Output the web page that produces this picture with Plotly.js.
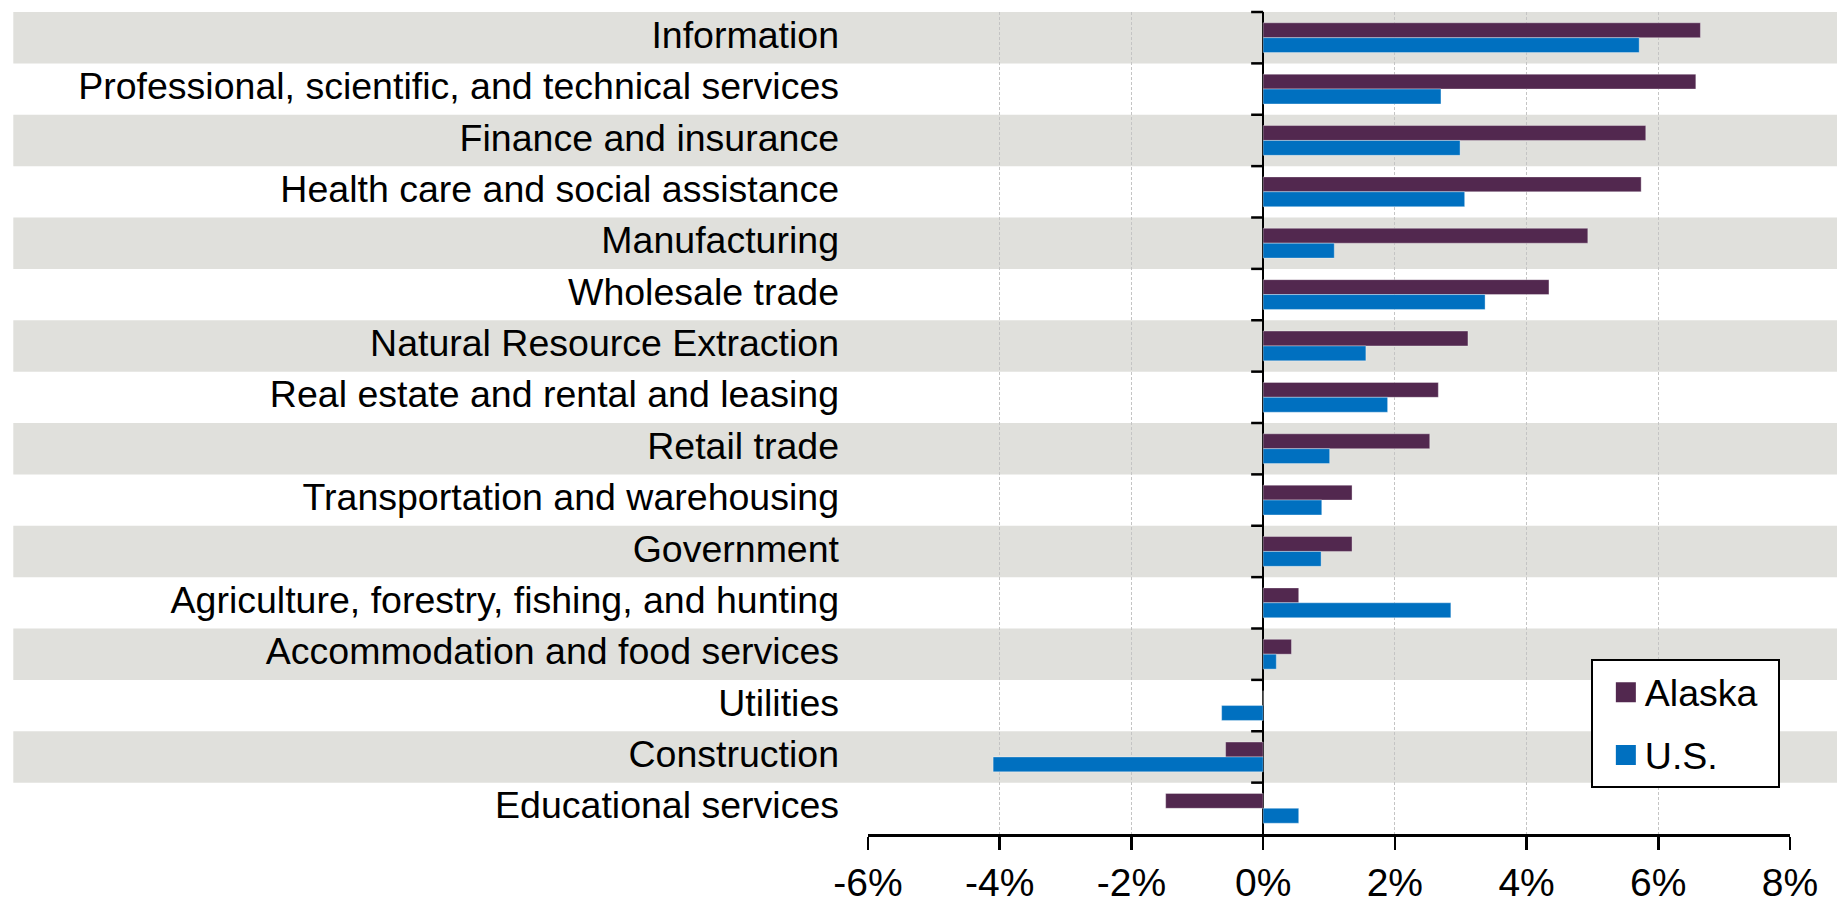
<!DOCTYPE html>
<html><head><meta charset="utf-8">
<script src="https://cdn.plot.ly/plotly-3.0.1.min.js"></script>
<style>html,body{margin:0;padding:0;background:#fff;} #chart{width:1845px;height:904px;}</style>
</head><body><div id="chart"></div>
<script>
const categories = [
  "Information",
  "Professional, scientific, and technical services",
  "Finance and insurance",
  "Health care and social assistance",
  "Manufacturing",
  "Wholesale trade",
  "Natural Resource Extraction",
  "Real estate and rental and leasing",
  "Retail trade",
  "Transportation and warehousing",
  "Government",
  "Agriculture, forestry, fishing, and hunting",
  "Accommodation and food services",
  "Utilities",
  "Construction",
  "Educational services"
];
const alaska = [6.64, 6.57, 5.81, 5.74, 4.93, 4.34, 3.11, 2.66, 2.53, 1.35, 1.35, 0.54, 0.43, 0, -0.57, -1.48];
const us     = [5.71, 2.70, 2.99, 3.06, 1.08, 3.37, 1.56, 1.89, 1.01, 0.89, 0.88, 2.85, 0.20, -0.63, -4.10, 0.54];
const seriesNames = ["Alaska", "U.S."];
const xTickValues = [-6, -4, -2, 0, 2, 4, 6, 8];
const xTickLabels = ["-6%", "-4%", "-2%", "0%", "2%", "4%", "6%", "8%"];

const FONT = "Liberation Sans, Arial, sans-serif";
const n = categories.length;

const traces = [
  {type: "bar", orientation: "h", name: seriesNames[0], legendgroup: "a", y: categories, x: alaska,
   marker: {color: "#52284F", line: {color: "rgba(255,255,255,0.35)", width: 1}}, hoverinfo: "none"},
  {type: "bar", orientation: "h", name: seriesNames[1], legendgroup: "b", y: categories, x: us,
   marker: {color: "#0070C0", line: {color: "rgba(255,255,255,0.35)", width: 1}}, hoverinfo: "none"}
];

const shapes = [];
// alternating background bands across the full width
for (let i = 0; i < n; i += 2) {
  shapes.push({type: "rect", xref: "paper", yref: "paper", layer: "below",
    x0: -0.927, x1: 1.051, y0: 1 - (i + 1) / n, y1: 1 - i / n,
    fillcolor: "#E0E0DC", line: {width: 0}});
}
// left-pointing tick marks on the vertical axis at category boundaries
for (let k = 0; k < n; k++) {
  shapes.push({type: "line", xref: "x", yref: "paper", xsizemode: "pixel", xanchor: 0,
    x0: -12, x1: 0, y0: 1 - k / n, y1: 1 - k / n, layer: "above",
    line: {color: "#000", width: 2.5}});
}

const layout = {
  width: 1845, height: 904,
  margin: {l: 868, r: 55, t: 12, b: 70},
  paper_bgcolor: "#fff", plot_bgcolor: "rgba(0,0,0,0)",
  barmode: "group", bargap: 0.42, bargroupgap: 0,
  font: {family: FONT, color: "#000"},
  showlegend: true,
  legend: {x: 0.784, y: 0.213, xanchor: "left", yanchor: "top",
    traceorder: "grouped", tracegroupgap: 11, itemwidth: 42,
    bgcolor: "#fff", bordercolor: "#000", borderwidth: 2,
    font: {family: FONT, size: 37.5, color: "#000"}},
  xaxis: {range: [-6, 8], tickvals: xTickValues, ticktext: xTickLabels,
    showgrid: true, gridcolor: "#C4C4C4", gridwidth: 1, griddash: "3px,2px",
    zeroline: true, zerolinecolor: "#000", zerolinewidth: 2.5,
    showline: true, linecolor: "#000", linewidth: 2.5,
    ticks: "outside", ticklen: 13, tickwidth: 2.5, tickcolor: "#000",
    tickfont: {family: FONT, size: 39, color: "#000"}, fixedrange: true},
  yaxis: {type: "category", categoryorder: "array", categoryarray: categories,
    range: [n - 0.5, -0.5], showgrid: false, zeroline: false, showline: false,
    ticks: "", ticklabelstandoff: 28, ticklabelshift: 3,
    tickfont: {family: FONT, size: 37.5, color: "#000"}, fixedrange: true},
  shapes: shapes
};

Plotly.newPlot("chart", traces, layout, {staticPlot: true, displayModeBar: false}).then(() => {
  // enlarge the legend swatches and place them just left of their labels
  document.querySelectorAll(".legend .traces").forEach(tr => {
    const txt = tr.querySelector(".legendtext");
    const p = tr.querySelector(".legendpoints path");
    if (!txt || !p) return;
    p.setAttribute("d", "M-10,-10H10V10H-10Z");
    p.setAttribute("transform", "");
    p.style.strokeWidth = "0px";
    const tb = txt.getBoundingClientRect();
    const pb = p.getBoundingClientRect();
    const dx = (tb.left - 9 - 10) - (pb.left + pb.width / 2);
    const dy = (tb.top + tb.height * 0.47) - (pb.top + pb.height / 2);
    p.setAttribute("transform", `translate(${dx},${dy})`);
  });
  // widen the legend box a little on the right
  const bg = document.querySelector(".legend .bg");
  const texts = Array.from(document.querySelectorAll(".legend .legendtext"));
  if (bg && texts.length) {
    const maxRight = Math.max(...texts.map(t => t.getBoundingClientRect().right));
    const bb = bg.getBoundingClientRect();
    const want = maxRight + 21 - bb.left;
    if (want > bb.width) bg.setAttribute("width", want);
  }
});
</script>
</body></html>
